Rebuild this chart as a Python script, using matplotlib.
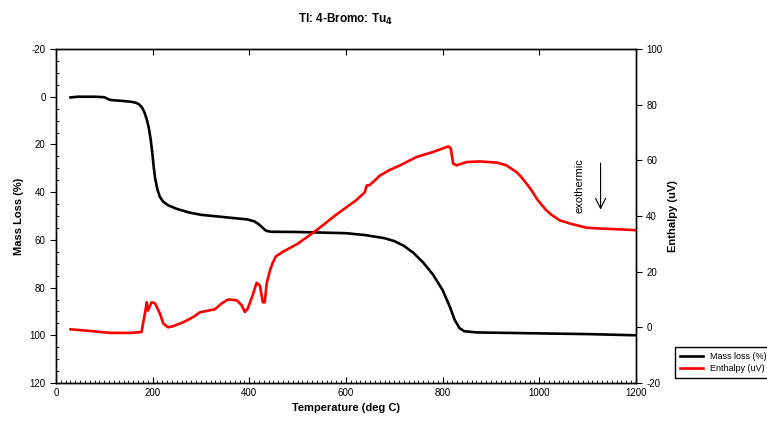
import numpy as np
import matplotlib.pyplot as plt
from matplotlib.ticker import MultipleLocator

plt.rcParams['font.family'] = ['Liberation Sans', 'DejaVu Sans']
plt.rcParams['axes.unicode_minus'] = False

# mass loss curve (left axis, inverted)
temp_mass = [30, 45, 60, 80, 100, 106, 112, 120, 140, 155, 165, 172, 178, 183,
             188, 192, 196, 199, 202, 205, 210, 215, 222, 232, 250, 275, 300,
             340, 374, 395, 410, 420, 428, 435, 445, 500, 600, 640, 680, 700,
             720, 740, 760, 780, 800, 815, 825, 835, 845, 870, 1000, 1100, 1200]
mass_loss = [0.3, 0.0, 0.0, 0.0, 0.2, 0.8, 1.3, 1.5, 1.8, 2.1, 2.5, 3.2, 4.5,
             6.5, 9.6, 13, 18, 23, 29, 34, 39, 42, 44, 45.5, 47, 48.5, 49.5,
             50.3, 51, 51.4, 52.2, 53.5, 55, 56.2, 56.6, 56.7, 57.2, 58,
             59.3, 60.5, 62.5, 65.5, 69.5, 74.5, 81, 88, 93.5, 97, 98.3,
             98.8, 99.2, 99.5, 100]

# enthalpy curve (right axis)
temp_enth = [30, 70, 112, 153, 177, 184, 188, 190, 198, 205, 215, 222, 232, 242,
             263, 283, 298, 329, 343, 356, 374, 384, 391, 397, 408, 415, 422,
             428, 432, 436, 443, 448, 455, 470, 500, 540, 580, 620, 639, 643,
             648, 655, 670, 690, 712, 746, 780, 812, 817, 822, 829, 850, 877,
             912, 932, 953, 963, 974, 985, 995, 1005, 1015, 1025, 1043, 1060,
             1070, 1098, 1126, 1167, 1201]
enthalpy = [-0.7, -1.3, -2.0, -2.0, -1.7, 5.0, 9.0, 6.0, 9.0, 8.6, 5.0, 1.4,
            0.0, 0.4, 1.8, 3.6, 5.4, 6.5, 8.6, 10.0, 9.7, 8.0, 5.5, 6.8, 12.0,
            16.0, 15.0, 9.0, 9.0, 15.8, 20.5, 23.0, 25.5, 27.2, 30.0, 35.0,
            40.5, 45.5, 48.5, 51.0, 51.0, 52.0, 54.5, 56.5, 58.2, 61.2, 63.0,
            65.0, 64.3, 58.8, 58.2, 59.4, 59.6, 59.2, 58.2, 55.8, 54.0, 51.6,
            49.0, 46.2, 44.0, 42.0, 40.5, 38.4, 37.5, 37.0, 35.8, 35.5, 35.2,
            34.9]

fig = plt.figure(figsize=(7.67, 4.24), dpi=100)
ax = fig.add_axes([0.073, 0.0967, 0.756, 0.7877])
ax2 = ax.twinx()

l1, = ax.plot(temp_mass, mass_loss, color='black', lw=1.9, label='Mass loss (%)')
l2, = ax2.plot(temp_enth, enthalpy, color='red', lw=1.9, label='Enthalpy (uV)')

ax.set_xlim(0, 1200)
ax.set_ylim(120, -20)
ax2.set_ylim(-20, 100)

ax.xaxis.set_major_locator(MultipleLocator(200))
ax.xaxis.set_minor_locator(MultipleLocator(10))
ax.yaxis.set_major_locator(MultipleLocator(20))
ax.yaxis.set_minor_locator(MultipleLocator(5))
ax2.yaxis.set_major_locator(MultipleLocator(20))

ax.tick_params(axis='x', which='major', direction='in', top=True, bottom=True,
               length=4, labelsize=7, width=0.8)
ax.tick_params(axis='x', which='minor', direction='in', top=False, bottom=True,
               length=2.5, width=0.6)
ax.tick_params(axis='y', which='major', direction='out', length=4, labelsize=7,
               width=0.8)
ax.tick_params(axis='y', which='minor', direction='in', length=2.5, width=0.6)
ax2.tick_params(axis='y', which='major', direction='out', length=4, labelsize=7,
                width=0.8)

for a in (ax, ax2):
    for s in a.spines.values():
        s.set_linewidth(1.0)

ax.set_xlabel('Temperature (deg C)', fontsize=8, fontweight='bold')
ax.set_ylabel('Mass Loss (%)', fontsize=8, fontweight='bold')
ax2.set_ylabel('Enthalpy (uV)', fontsize=8, fontweight='bold')
ax.set_title('Tl: 4-Bromo: Tu$_\\mathbf{4}$', fontsize=8.5, fontweight='bold', pad=19)

ax2.annotate('', xy=(1127, 41.3), xytext=(1127, 60),
             arrowprops=dict(arrowstyle='->', color='black', lw=0.8,
                             mutation_scale=18))
ax2.text(1084, 51, 'exothermic', rotation=90, fontsize=8, ha='center', va='center')

fig.legend(handles=[l1, l2], loc='lower left',
           bbox_to_anchor=(670 / 767, 1 - 383 / 424), fontsize=6.5,
           frameon=True, fancybox=False, edgecolor='black', framealpha=1,
           borderpad=0.6, handlelength=2.5, labelspacing=0.3)

fig.savefig('out.png', dpi=100)
